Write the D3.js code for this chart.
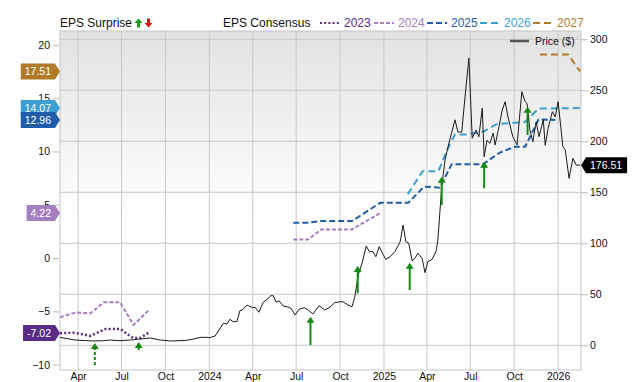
<!DOCTYPE html>
<html><head><meta charset="utf-8">
<script src="https://cdn.jsdelivr.net/npm/d3@7"></script>
<style>
body{margin:0;background:#fff;}
text{font-family:"Liberation Sans",Arial,Helvetica,sans-serif;}
</style>
</head><body>
<svg id="chart" width="640" height="382"></svg>
<script>
// ---------------- DATA ----------------
const priceDates = ["2023-02-22","2023-03-25","2023-05-02","2023-05-23","2023-06-07","2023-06-28","2023-07-19","2023-08-03","2023-08-30","2023-09-20","2023-10-11","2023-11-15","2023-12-02","2023-12-13","2023-12-27","2024-01-02","2024-01-13","2024-01-19","2024-01-30","2024-02-07","2024-02-13","2024-02-20","2024-02-28","2024-03-05","2024-03-12","2024-03-20","2024-03-31","2024-04-06","2024-04-14","2024-04-23","2024-05-01","2024-05-09","2024-05-14","2024-05-20","2024-05-26","2024-06-04","2024-06-12","2024-06-20","2024-06-29","2024-07-07","2024-07-18","2024-07-26","2024-08-05","2024-08-18","2024-08-30","2024-09-10","2024-09-20","2024-10-01","2024-10-07","2024-10-18","2024-10-26","2024-11-01","2024-11-08","2024-11-16","2024-11-25","2024-12-01","2024-12-09","2024-12-15","2024-12-22","2024-12-30","2025-01-05","2025-01-14","2025-01-24","2025-02-04","2025-02-10","2025-02-16","2025-02-22","2025-03-01","2025-03-07","2025-03-13","2025-03-22","2025-03-28","2025-04-03","2025-04-12","2025-04-20","2025-04-24","2025-05-02","2025-05-09","2025-05-17","2025-05-30","2025-06-05","2025-06-13","2025-06-20","2025-06-28","2025-07-05","2025-07-13","2025-07-19","2025-07-26","2025-07-30","2025-08-05","2025-08-11","2025-08-18","2025-08-22","2025-08-28","2025-09-06","2025-09-12","2025-09-18","2025-09-28","2025-10-07","2025-10-17","2025-10-24","2025-10-28","2025-11-03","2025-11-09","2025-11-16","2025-11-22","2025-12-01","2025-12-05","2025-12-11","2025-12-20","2025-12-26","2026-01-01","2026-01-11","2026-01-16","2026-01-24","2026-02-01","2026-02-08","2026-02-16"];
const priceValues = [7.8,5.2,4.2,4.5,5.2,4.5,5.2,5.9,7.2,5.2,4.2,4.9,6.5,7.8,7.8,7.5,9.1,13.3,21.5,20.9,25.5,23.1,23.3,33.9,35.3,39.5,36.9,37.3,32.4,42.2,45.1,48.6,48.6,42.2,43.7,38.5,37.8,36.3,29.7,35.3,36.9,34.6,30.7,38.8,34.6,37.5,41.8,42.7,42.7,39.5,37.8,47.6,68.9,80.4,97.4,91.8,91.8,86.9,96.7,89.2,84.3,86.9,91.8,101.6,117.9,101.6,100,82.9,85.3,90.2,85.3,71.2,82,84.3,91.8,103.2,155,181.7,198,221,209,209,243.7,281.4,203,211,204.5,232.4,184.9,201,198,208,196.4,209.4,230.7,238.8,224,204.5,196.4,248.6,238.8,237,211,199.6,219,204.5,221,196,212.5,229,224,238.8,194.7,191.5,163.7,183.3,176.8,176.51];

const eps2023 = [["2023-02-22",-7.05],["2023-03-21",-7.0],["2023-04-05",-7.1],["2023-04-26",-7.3],["2023-05-29",-6.65],["2023-06-28",-6.65],["2023-07-25",-7.5],["2023-08-09",-7.5],["2023-08-26",-7.02]];
const eps2024a = [["2023-02-22",-5.56],["2023-03-28",-5.09],["2023-04-26",-5.2],["2023-05-25",-4.15],["2023-06-28",-4.15],["2023-07-26",-6.28],["2023-08-26",-4.94]];
const eps2024b = [["2024-06-25",1.75],["2024-07-26",1.75],["2024-08-23",2.69],["2024-10-26",2.69],["2024-12-24",4.22]];
const eps2025 = [["2024-06-25",3.31],["2024-07-26",3.31],["2024-08-20",3.47],["2024-10-26",3.47],["2024-12-24",5.18],["2025-02-21",5.18],["2025-03-26",6.7],["2025-04-28",6.6],["2025-05-23",8.81],["2025-07-28",8.81],["2025-09-01",9.9],["2025-10-03",10.45],["2025-10-24",10.45],["2025-11-07",11.7],["2025-11-21",13.0],["2025-12-26",12.96]];
const eps2026 = [["2025-02-20",6.0],["2025-03-23",8.15],["2025-04-25",8.15],["2025-05-19",10.68],["2025-05-30",11.59],["2025-06-23",11.6],["2025-07-28",11.84],["2025-08-25",12.56],["2025-10-24",12.77],["2025-11-21",14.03],["2026-02-16",14.07]];
const eps2027 = [["2025-11-24",19.1],["2026-01-22",19.1],["2026-02-16",17.51]];

// surprise arrows: date, tail price, head price (right axis units)
const surpriseDates = ["2023-05-06","2023-08-06","2024-07-31","2024-11-07","2025-02-24","2025-05-02","2025-07-30","2025-10-29"];
const surpriseFrom = [-19.3,-4.6,0.3,51,54.2,137.5,153.9,206.2];
const surpriseTo = [2.3,3.2,28.0,77.7,81,165.3,180,233.9];
const surpriseDashed = [true,true,false,false,false,false,false,false];

const xTickDates = ["2023-04-01","2023-07-01","2023-10-01","2024-01-01","2024-04-01","2024-07-01","2024-10-01","2025-01-01","2025-04-01","2025-07-01","2025-10-01","2026-01-01"];
const xTickLabels = ["Apr","Jul","Oct","2024","Apr","Jul","Oct","2025","Apr","Jul","Oct","2026"];
const leftTicks = [-10,-5,0,5,10,15,20];
const rightTicks = [0,50,100,150,200,250,300];

const seriesNames = ["2023","2024","2025","2026","2027"];
const seriesColors = ["#5a2b86","#a67fc1","#1f5ca9","#3b9fd1","#b27b2c"];
const seriesDash = ["2,2.2","4,2","6,3","7,4","7,4"];
const lastValues = [-7.02,4.22,12.96,14.07,17.51];

// ---------------- CHART ----------------
const parse = d3.timeParse("%Y-%m-%d");
const L=60, R=581, T=31, B=370;
const svg = d3.select("#chart");

const x = d3.scaleTime().domain([parse("2023-02-22"), parse("2026-02-18")]).range([L,R]);
const yL = d3.scaleLinear().domain([-10.5,21.3]).range([B,T]);
const yR = d3.scaleLinear().domain([-24.2,308.1]).range([B,T]);

const defs = svg.append("defs");
const grad = defs.append("linearGradient").attr("id","bg").attr("x1",0).attr("y1",0).attr("x2",0).attr("y2",1);
grad.append("stop").attr("offset","0%").attr("stop-color","#e2e2e2");
grad.append("stop").attr("offset","55%").attr("stop-color","#ffffff");
grad.append("stop").attr("offset","100%").attr("stop-color","#ffffff");
defs.append("clipPath").attr("id","clip").append("rect").attr("x",L).attr("y",T).attr("width",R-L).attr("height",B-T);

svg.append("rect").attr("x",L).attr("y",T).attr("width",R-L).attr("height",B-T).attr("fill","url(#bg)");

// gridlines
const grid = svg.append("g");
grid.selectAll("line.h").data(rightTicks).join("line")
  .attr("x1",L).attr("x2",R).attr("y1",d=>yR(d)).attr("y2",d=>yR(d))
  .attr("stroke","#c8c8c8").attr("stroke-width",1);
grid.selectAll("line.v").data(xTickDates).join("line")
  .attr("x1",d=>x(parse(d))).attr("x2",d=>x(parse(d))).attr("y1",T).attr("y2",B)
  .attr("stroke","#c8c8c8").attr("stroke-width",1);
svg.append("rect").attr("x",L).attr("y",T).attr("width",R-L).attr("height",B-T)
  .attr("fill","none").attr("stroke","#c4c4c4").attr("stroke-width",1);

// axes
const axL = svg.append("g").attr("transform",`translate(${L-1},0)`)
  .call(d3.axisLeft(yL).tickValues(leftTicks).tickSize(6).tickPadding(3).tickFormat(d3.format("d")));
const axR = svg.append("g").attr("transform",`translate(${R},0)`)
  .call(d3.axisRight(yR).tickValues(rightTicks).tickSize(7).tickPadding(2).tickFormat(d3.format("d")));
const axB = svg.append("g").attr("transform",`translate(0,${B})`)
  .call(d3.axisBottom(x).tickValues(xTickDates.map(parse)).tickSize(0).tickPadding(3)
    .tickFormat((d,i)=>xTickLabels[i]));
[axL,axR,axB].forEach(a=>{
  a.select(".domain").remove();
  a.selectAll(".tick line").attr("stroke","#bbbbbb");
  a.selectAll("text").attr("fill","#111").style("font-size","10.5px").style("font-family","'Liberation Sans',Arial,sans-serif");
});

const plot = svg.append("g").attr("clip-path","url(#clip)");

// EPS lines
const lineL = d3.line().x(d=>x(parse(d[0]))).y(d=>yL(d[1]));
const epsSets = [[eps2023],[eps2024a,eps2024b],[eps2025],[eps2026],[eps2027]];
epsSets.forEach((sets,i)=>{
  sets.forEach(s=>{
    plot.append("path").datum(s).attr("d",lineL).attr("fill","none")
      .attr("stroke",seriesColors[i]).attr("stroke-width",i===0?2.5:2)
      .attr("stroke-dasharray",seriesDash[i]);
  });
});

// price line
const priceData = priceDates.map((d,i)=>[parse(d),priceValues[i]]);
plot.append("path").datum(priceData)
  .attr("d",d3.line().x(d=>x(d[0])).y(d=>yR(d[1])))
  .attr("fill","none").attr("stroke","#1a1a1a").attr("stroke-width",1);

// surprise arrows
const green = "#138a13";
surpriseDates.forEach((d,i)=>{
  const ax = x(parse(d)), y0 = yR(surpriseFrom[i]), y1 = yR(surpriseTo[i]);
  plot.append("line").attr("x1",ax).attr("x2",ax).attr("y1",y0).attr("y2",y1+5)
    .attr("stroke",green).attr("stroke-width",2)
    .attr("stroke-dasharray",surpriseDashed[i]?"3,2":null);
  plot.append("path").attr("d",`M${ax},${y1} L${ax+4},${y1+6} L${ax-4},${y1+6} Z`).attr("fill",green);
});

// Price legend
svg.append("line").attr("x1",510).attr("x2",529).attr("y1",41).attr("y2",41).attr("stroke","#555").attr("stroke-width",2.5);
svg.append("text").attr("x",535).attr("y",45).text("Price ($)").style("font-size","10.5px").attr("fill","#111");

// top legend
const lg = svg.append("g");
lg.append("text").attr("x",60).attr("y",27).text("EPS Surprise").style("font-size","12px").attr("fill","#111");
lg.append("path").attr("d","M138.5,18.5 L142.5,23 L140,23 L140,27.5 L137,27.5 L137,23 L134.5,23 Z").attr("fill","#139a13");
lg.append("path").attr("d","M148.5,27.5 L152.5,23 L150,23 L150,18.5 L147,18.5 L147,23 L144.5,23 Z").attr("fill","#e01010");
lg.append("text").attr("x",223).attr("y",27).text("EPS Consensus").style("font-size","12px").attr("fill","#111");
const legX = [320,374,427,480,533];
seriesNames.forEach((n,i)=>{
  lg.append("line").attr("x1",legX[i]).attr("x2",legX[i]+20).attr("y1",23).attr("y2",23)
    .attr("stroke",seriesColors[i]).attr("stroke-width",2).attr("stroke-dasharray",seriesDash[i]);
  lg.append("text").attr("x",legX[i]+24).attr("y",27).text(n).style("font-size","12px").attr("fill",seriesColors[i]);
});

// left badges (draw 2027 first)
const bg = svg.append("g");
[4,3,2,1,0].forEach(i=>{
  const yy = yL(lastValues[i]);
  const g = bg.append("g");
  const t = g.append("text").attr("y",yy+3.7).text(lastValues[i].toFixed(2))
    .style("font-size","10.5px").attr("fill","#fff");
  const w = t.node().getComputedTextLength();
  const tip = 60, bw = w + 8;
  g.insert("path","text").attr("d",`M${tip-5-bw},${yy-8} h${bw} l5,8 l-5,8 h${-bw} Z`).attr("fill",seriesColors[i]);
  t.attr("x",tip-5-bw+4);
});

// right price badge
{
  const last = priceValues[priceValues.length-1];
  const yy = yR(last);
  const g = svg.append("g");
  const t = g.append("text").attr("x",590).attr("y",yy+3.7).text(last.toFixed(2)).style("font-size","10.5px").attr("fill","#fff");
  const w = t.node().getComputedTextLength();
  g.insert("path","text").attr("d",`M${R},${yy} l5,-8 h${w+9} v16 h${-(w+9)} Z`).attr("fill","#000");
}
</script>
</body></html>
